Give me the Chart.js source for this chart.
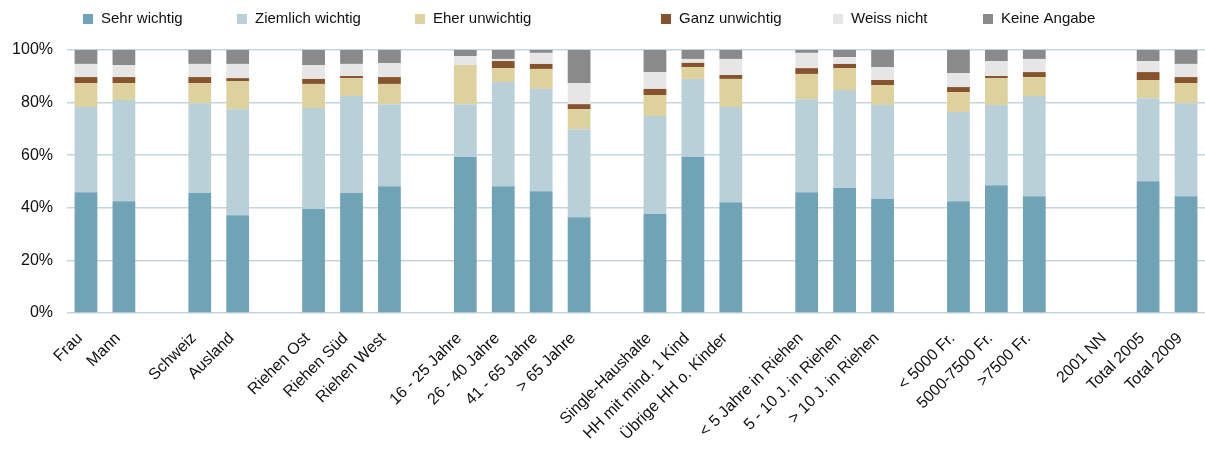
<!DOCTYPE html>
<html>
<head>
<meta charset="utf-8">
<script src="https://cdn.jsdelivr.net/npm/chart.js@4"></script>
<style>
  html, body { margin: 0; padding: 0; background: #ffffff; }
  #wrap { width: 1205px; height: 456px; }
</style>
</head>
<body>
<div id="wrap"><canvas id="c" width="1205" height="456"></canvas></div>
<script>
const categories = ['Frau','Mann','','Schweiz','Ausland','','Riehen Ost','Riehen Süd','Riehen West','','16 - 25 Jahre','26 - 40 Jahre','41 - 65 Jahre','> 65 Jahre','','Single-Haushalte','HH mit mind. 1 Kind','Übrige HH o. Kinder','','< 5 Jahre in Riehen','5 - 10 J. in Riehen','> 10 J. in Riehen','','< 5000 Fr.','5000-7500 Fr.','>7500 Fr.','','2001 NN','Total 2005','Total 2009'];

const seriesNames = ['Sehr wichtig','Ziemlich wichtig','Eher unwichtig','Ganz unwichtig','Weiss nicht','Keine Angabe'];

const sehrWichtig     = [45.9,42.5,null,45.6,37.2,null,39.5,45.6,48.2,null,59.3,48.2,46.3,36.4,null,37.6,59.3,42.1,null,45.9,47.5,43.3,null,42.5,48.6,44.4,null,null,50.1,44.4];
const ziemlichWichtig = [32.4,38.5,null,34.2,40.3,null,38.4,36.9,31.2,null,20.1,39.6,38.9,33.5,null,37.3,29.7,36.2,null,35.4,37.3,35.8,null,33.9,30.5,38.1,null,null,31.6,35.4];
const eherUnwichtig   = [9.1,6.4,null,7.6,10.7,null,9.2,6.8,7.7,null,14.9,5.3,7.6,7.6,null,8.0,4.5,10.7,null,9.6,8.3,7.6,null,7.6,10.2,7.2,null,null,6.9,7.6];
const ganzUnwichtig   = [2.3,2.3,null,2.3,1.1,null,1.9,0.8,2.6,null,0,2.7,1.9,1.9,null,2.3,1.6,1.5,null,2.2,1.6,1.9,null,1.9,0.8,1.9,null,null,3.0,2.3];
const weissNicht      = [5.0,4.6,null,5.0,5.4,null,5.3,4.6,5.3,null,3.4,0.8,4.2,8.0,null,6.4,1.5,6.1,null,5.8,2.6,4.9,null,5.3,5.7,5.0,null,null,4.2,5.0];
const keineAngabe     = [5.3,5.7,null,5.3,5.3,null,5.7,5.3,5.0,null,2.3,3.4,1.1,12.6,null,8.4,3.4,3.4,null,1.1,2.7,6.5,null,8.8,4.2,3.4,null,null,4.2,5.3];

const yTicks = [0,20,40,60,80,100];

const colors = ['#70a3b6','#b9d0d8','#ddd29d','#87522e','#e6e6e6','#8a8a8a'];
const seriesValues = [sehrWichtig, ziemlichWichtig, eherUnwichtig, ganzUnwichtig, weissNicht, keineAngabe];

// legend layout (pixel positions of the legend entries, as in the original)
const legendBoxX = [83, 237, 415, 661, 833, 983];

const FONT = '"Liberation Sans", Arial, Helvetica, sans-serif';
Chart.defaults.font.family = FONT;
Chart.defaults.font.size = 16;
Chart.defaults.color = '#111111';

const legendPlugin = {
  id: 'topLegend',
  afterDraw(chart) {
    const ctx = chart.ctx;
    ctx.save();
    ctx.font = '15px ' + FONT;
    const box = 10, gap = 8;
    const cy = 19;
    ctx.textBaseline = 'middle';
    ctx.textAlign = 'left';
    chart.data.datasets.forEach((d, i) => {
      const x = legendBoxX[i];
      ctx.fillStyle = d.backgroundColor;
      ctx.fillRect(x, cy - 5, box, box);
      ctx.fillStyle = '#111111';
      ctx.fillText(d.label, x + box + gap, cy);
    });
    ctx.restore();
  }
};

new Chart(document.getElementById('c'), {
  type: 'bar',
  data: {
    labels: categories,
    datasets: seriesNames.map((name, i) => ({
      label: name,
      data: seriesValues[i],
      backgroundColor: colors[i],
      borderWidth: 0,
      barPercentage: 0.6,
      categoryPercentage: 1.0
    }))
  },
  options: {
    responsive: false,
    animation: false,
    devicePixelRatio: 1,
    layout: { padding: { top: 50, left: 0, right: 0, bottom: 0 } },
    plugins: {
      legend: { display: false },
      tooltip: { enabled: false }
    },
    scales: {
      x: {
        stacked: true,
        grid: { display: false, drawTicks: false },
        border: { display: false },
        ticks: {
          autoSkip: false,
          maxRotation: 45,
          minRotation: 45,
          padding: 16,
          labelOffset: -6,
          font: { size: 16 },
          color: '#111111'
        },
        afterFit(scale) {
          scale.height = 143;
          scale.paddingRight = 0;
          scale.paddingLeft = 0;
        }
      },
      y: {
        stacked: true,
        min: 0,
        max: 100,
        grid: { color: '#c3d6de', lineWidth: 1.5, drawTicks: false },
        border: { display: false },
        afterBuildTicks(scale) { scale.ticks = yTicks.map(v => ({ value: v })); },
        ticks: {
          padding: 14,
          font: { size: 16 },
          color: '#111111',
          callback: v => v + '%'
        },
        afterFit(scale) { scale.width = 67; }
      }
    }
  },
  plugins: [legendPlugin]
});
</script>
</body>
</html>
